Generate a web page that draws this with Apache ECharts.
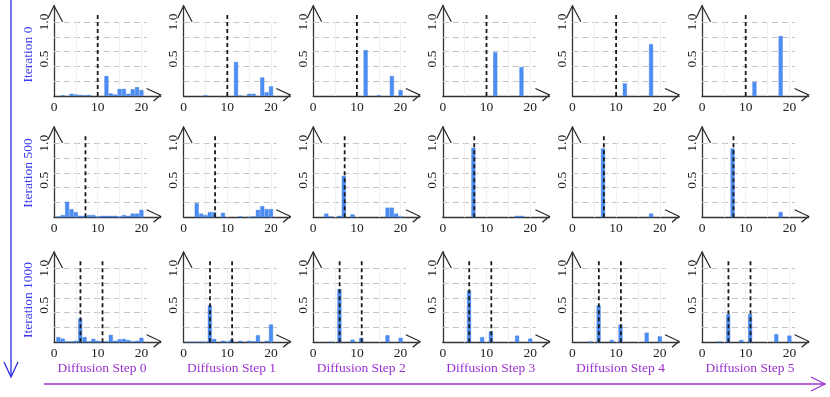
<!DOCTYPE html>
<html>
<head>
<meta charset="utf-8">
<script src="https://cdn.jsdelivr.net/npm/echarts@6/dist/echarts.min.js"></script>
<style>
  html, body { margin: 0; padding: 0; background: #fff; }
  #chart { width: 830px; height: 397px; }
</style>
</head>
<body>
<div id="chart"></div>
<script>
// bins 0..20, one value per bin
const bins = [0, 1, 2, 3, 4, 5, 6, 7, 8, 9, 10, 11, 12, 13, 14, 15, 16, 17, 18, 19, 20]

// Iteration 0, diffusion steps 0..5
const iter0 = [
  [0, 0, 0.01, 0, 0.03, 0.02, 0.015, 0.01, 0.015, 0, 0, 0, 0.27, 0.035, 0.02, 0.095, 0.095, 0.03, 0.09, 0.12, 0.08],
  [0, 0, 0, 0, 0, 0.01, 0, 0, 0, 0, 0, 0, 0.46, 0.005, 0, 0.03, 0.03, 0, 0.25, 0.05, 0.13],
  [0, 0, 0, 0, 0, 0, 0, 0, 0, 0, 0, 0, 0.62, 0, 0, 0.01, 0, 0, 0.27, 0, 0.08],
  [0, 0, 0, 0, 0, 0, 0, 0, 0, 0, 0, 0, 0.59, 0, 0, 0, 0, 0, 0.39, 0, 0],
  [0, 0, 0, 0, 0, 0, 0, 0, 0, 0, 0, 0, 0.17, 0, 0, 0, 0, 0, 0.70, 0, 0],
  [0, 0, 0, 0, 0, 0, 0, 0, 0, 0, 0, 0, 0.19, 0, 0, 0, 0, 0, 0.81, 0, 0]
]
// Iteration 500
const iter500 = [
  [0, 0.01, 0.03, 0.21, 0.11, 0.07, 0.02, 0.02, 0.03, 0.03, 0.01, 0.02, 0.02, 0.02, 0.02, 0.01, 0.03, 0.02, 0.05, 0.05, 0.1],
  [0, 0, 0, 0.19, 0.05, 0.03, 0.07, 0.07, 0, 0.06, 0, 0, 0, 0.01, 0, 0.005, 0.01, 0.1, 0.15, 0.11, 0.11],
  [0, 0, 0, 0.05, 0.01, 0, 0.02, 0.56, 0, 0.04, 0, 0, 0, 0, 0, 0, 0, 0.13, 0.13, 0.05, 0.01],
  [0, 0, 0, 0, 0, 0, 0, 0.94, 0, 0, 0, 0, 0, 0, 0, 0, 0, 0.02, 0.02, 0, 0],
  [0, 0, 0, 0, 0, 0, 0, 0.93, 0, 0, 0, 0, 0, 0, 0, 0, 0, 0, 0.05, 0, 0],
  [0, 0, 0, 0, 0, 0, 0, 0.93, 0, 0, 0, 0, 0, 0, 0, 0, 0, 0, 0.07, 0, 0]
]
// Iteration 1000
const iter1000 = [
  [0, 0.07, 0.05, 0.01, 0.01, 0.02, 0.32, 0.07, 0.01, 0.045, 0.02, 0.01, 0.01, 0.1, 0.02, 0.04, 0.045, 0.03, 0.01, 0.02, 0.06],
  [0, 0.005, 0.005, 0.005, 0.005, 0.005, 0.5, 0.045, 0, 0.02, 0.01, 0.035, 0, 0.02, 0, 0.02, 0.01, 0.095, 0, 0.02, 0.24],
  [0, 0, 0, 0, 0.005, 0, 0.72, 0, 0, 0.035, 0, 0.06, 0, 0, 0, 0, 0, 0.095, 0, 0, 0.06],
  [0, 0, 0, 0, 0, 0, 0.7, 0, 0, 0.07, 0, 0.15, 0, 0, 0, 0, 0, 0.09, 0, 0, 0.05],
  [0, 0, 0, 0, 0.01, 0, 0.5, 0, 0, 0.03, 0, 0.24, 0, 0, 0, 0, 0, 0.13, 0, 0, 0.08],
  [0, 0, 0, 0, 0.01, 0, 0.38, 0, 0, 0.03, 0, 0.38, 0, 0, 0, 0, 0, 0.11, 0, 0, 0.09]
]

// vertical dashed markers per row
const dashedAt = [[10], [7.2], [6.05, 11.1]]
const dashedTop = 1.13

const rowLabels = ['Iteration 0', 'Iteration 500', 'Iteration 1000']
const colLabels = ['Diffusion Step 0', 'Diffusion Step 1', 'Diffusion Step 2',
  'Diffusion Step 3', 'Diffusion Step 4', 'Diffusion Step 5']
const gridLevels = [0.2, 0.4, 0.6, 0.8, 1.0]
const faintX = [5, 10, 15, 20]

const rows = [iter0, iter500, iter1000]

// layout
const unitX = 4.37
const unitY = 74
const xMax = 24.4
const yMax = 1.22
const gridRight = 21.3
const rowBottom = [96, 217.3, 342.3]
const colLeft = c => 54 + c * 129.6
const serif = '"Liberation Serif", "DejaVu Serif", serif'
const rowLabelY = [54.5, 173, 300]

const chart = echarts.init(document.getElementById('chart'))

const grids = []
const xAxes = []
const yAxes = []
const series = []

rows.forEach((row, r) => {
  row.forEach((vals, c) => {
    const k = r * 6 + c
    grids.push({
      left: colLeft(c),
      top: rowBottom[r] - yMax * unitY,
      width: xMax * unitX,
      height: yMax * unitY,
      outerBoundsMode: 'none'
    })
    xAxes.push({
      type: 'value',
      gridIndex: k,
      min: 0,
      max: xMax,
      interval: 10,
      axisLine: { lineStyle: { color: '#333', width: 1.3 } },
      axisTick: { show: false },
      splitLine: { show: false },
      axisLabel: {
        margin: 4,
        fontFamily: serif,
        fontSize: 13.5,
        color: '#222',
        formatter: v => (v === 0 || v === 10 || v === 20) ? String(v) : ''
      }
    })
    yAxes.push({
      type: 'value',
      gridIndex: k,
      min: 0,
      max: yMax,
      interval: 0.5,
      axisLine: { show: true, lineStyle: { color: '#333', width: 1.3 } },
      axisTick: { show: false },
      splitLine: { show: false },
      axisLabel: {
        rotate: 90,
        margin: 3,
        fontFamily: serif,
        fontSize: 13.5,
        color: '#222',
        formatter: v => (Math.abs(v - 0.5) < 1e-6 || Math.abs(v - 1) < 1e-6) ? v.toFixed(1) : ''
      }
    })

    const lines = gridLevels.map(lv => [
      { coord: [0, lv], lineStyle: { color: '#c4c4c4', type: [6, 4], width: 1.2 } },
      { coord: [gridRight, lv] }
    ]).concat(faintX.map(x => [
      { coord: [x, 0], lineStyle: { color: '#f0f0f0', type: 'solid', width: 1 } },
      { coord: [x, 1.0] }
    ]))

    series.push({
      type: 'bar',
      xAxisIndex: k,
      yAxisIndex: k,
      barWidth: 4,
      z: 2,
      silent: true,
      itemStyle: { color: '#4c8ef5', borderColor: '#3b78dc', borderWidth: 0.4 },
      data: bins.map((b, i) => [b, vals[i]]).filter(d => d[1] > 0),
      markLine: {
        z: 1,
        silent: true,
        symbol: ['none', 'none'],
        label: { show: false },
        emphasis: { disabled: true },
        data: lines
      }
    })

    dashedAt[r].forEach(x => {
      series.push({
        type: 'line',
        xAxisIndex: k,
        yAxisIndex: k,
        z: 3,
        silent: true,
        symbol: 'none',
        lineStyle: { color: '#1a1a1a', type: [4, 3], width: 1.8 },
        data: [[x, 0], [x, dashedTop]]
      })
    })
  })
})

chart.setOption({
  animation: false,
  backgroundColor: '#fff',
  grid: grids,
  xAxis: xAxes,
  yAxis: yAxes,
  series: series
})

// axis arrows, labels and the big direction arrows
const graphic = []
const ink = { stroke: '#222', fill: null, lineWidth: 1.2 }
for (let k = 0; k < grids.length; k++) {
  const apex = chart.convertToPixel({ gridIndex: k }, [0, yMax])
  const tip = chart.convertToPixel({ gridIndex: k }, [xMax, 0])
  graphic.push({
    type: 'polyline', silent: true,
    shape: { points: [[apex[0] - 6, apex[1] + 12.5], apex, [apex[0] + 8.5, apex[1] + 16]] },
    style: ink
  })
  graphic.push({
    type: 'polyline', silent: true,
    shape: { points: [[tip[0] - 14, tip[1] - 7.5], [tip[0], tip[1] - 1], [tip[0] - 7, tip[1] + 5]] },
    style: ink
  })
}

rowLabels.forEach((t, r) => {
  graphic.push({
    type: 'text', silent: true,
    x: 28, y: rowLabelY[r], rotation: Math.PI / 2,
    style: { text: t, fontFamily: serif, fontSize: 13.5, fill: '#3a3af0', align: 'center', verticalAlign: 'middle' }
  })
})
colLabels.forEach((t, c) => {
  graphic.push({
    type: 'text', silent: true,
    x: colLeft(c) + 48, y: 368,
    style: { text: t, fontFamily: serif, fontSize: 13.5, fill: '#9b30d0', align: 'center', verticalAlign: 'middle' }
  })
})

// left "iterations" arrow
graphic.push({ type: 'line', silent: true, shape: { x1: 11, y1: 0, x2: 11, y2: 376 }, style: { stroke: '#2a2ae0', lineWidth: 1.3 } })
graphic.push({ type: 'polyline', silent: true, shape: { points: [[4, 362], [11, 377], [18, 362]] }, style: { stroke: '#2a2ae0', fill: null, lineWidth: 1.3 } })
// bottom "diffusion steps" arrow
graphic.push({ type: 'line', silent: true, shape: { x1: 44, y1: 384, x2: 825, y2: 384 }, style: { stroke: '#9b30d0', lineWidth: 1.3 } })
graphic.push({ type: 'polyline', silent: true, shape: { points: [[811, 377], [825, 384], [811, 391]] }, style: { stroke: '#9b30d0', fill: null, lineWidth: 1.3 } })

chart.setOption({ graphic: graphic })
</script>
</body>
</html>
